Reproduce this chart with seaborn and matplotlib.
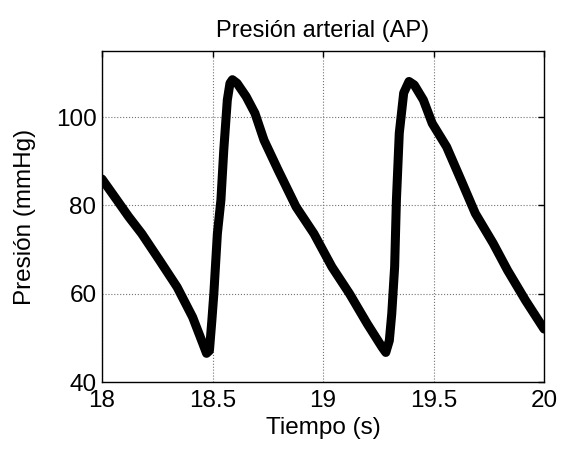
import numpy as np
import pandas as pd
import matplotlib
matplotlib.use("Agg")
import matplotlib.pyplot as plt
import seaborn as sns

# values
tiempo = [18.000, 18.068, 18.120, 18.180, 18.260, 18.340, 18.410, 18.457, 18.473,
          18.486, 18.497, 18.506, 18.522, 18.538, 18.551, 18.567, 18.579, 18.590,
          18.611, 18.652, 18.692, 18.733, 18.797, 18.878, 18.959, 19.040, 19.120,
          19.200, 19.267, 19.284,
          19.300, 19.311, 19.324, 19.332, 19.345, 19.365, 19.389,
          19.413, 19.454, 19.494, 19.559, 19.624, 19.689, 19.770, 19.835, 19.916, 20.000]
presion = [86.0, 81.2, 77.5, 73.6, 67.6, 61.5, 54.7, 48.6, 46.5,
           47.1, 53.9, 60.0, 73.6, 81.2, 92.6, 103.9, 107.7, 108.5,
           107.7, 104.7, 100.9, 94.8, 88.0, 79.7, 73.6, 66.1, 60.0,
           53.2, 47.9, 46.7,
           49.4, 55.5, 66.1, 81.2, 96.4, 105.5, 108.1,
           107.3, 103.9, 98.6, 93.3, 85.8, 78.2, 71.4, 65.3, 58.5, 52.0]

x_ticks = [18, 18.5, 19, 19.5, 20]
x_labels = ["18", "18.5", "19", "19.5", "20"]
y_ticks = [40, 60, 80, 100]

df = pd.DataFrame({"t": tiempo, "ap": presion})

sns.set_style("white")
plt.rcParams['font.family'] = ['Liberation Sans', 'DejaVu Sans']
plt.rcParams['text.color'] = 'black'
plt.rcParams['axes.labelcolor'] = 'black'

fig = plt.figure(figsize=(5.61, 4.55), dpi=100)
ax = fig.add_axes([0.1818, 0.1604, 0.788, 0.7275])

sns.lineplot(data=df, x="t", y="ap", ax=ax, color="black", linewidth=6.5,
             solid_joinstyle="round", solid_capstyle="round")

ax.set_xlim(18, 20)
ax.set_ylim(40, 115)
ax.set_xticks(x_ticks)
ax.set_xticklabels(x_labels)
ax.set_yticks(y_ticks)
ax.grid(True, color="0.45", linestyle=":", linewidth=0.8)
ax.tick_params(direction="in", length=4, width=1, top=True, right=True,
               labelsize=17.5, colors="black")
ax.tick_params(axis="x", pad=6)
ax.tick_params(axis="y", pad=4)
for s in ax.spines.values():
    s.set_color("black")
    s.set_linewidth(1)

ax.set_title("Presión arterial (AP)", fontsize=17, pad=10, color="black")
ax.set_xlabel("Tiempo (s)", fontsize=17.5, labelpad=3, color="black")
ax.set_ylabel("Presión (mmHg)", fontsize=17.5, labelpad=14, color="black")

fig.savefig("out.png", dpi=100)
